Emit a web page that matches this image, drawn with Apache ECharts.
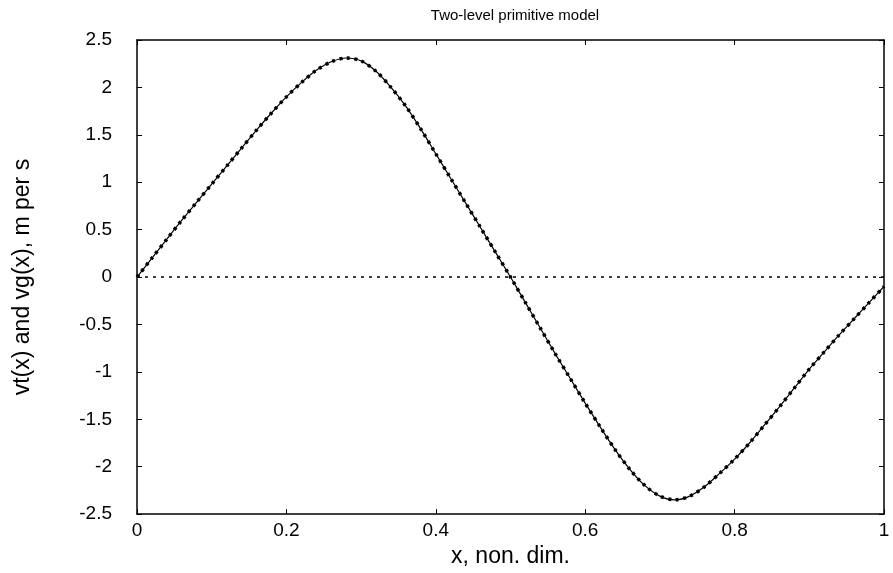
<!DOCTYPE html>
<html>
<head>
<meta charset="utf-8">
<script src="https://cdn.jsdelivr.net/npm/echarts@6/dist/echarts.min.js"></script>
<style>html,body{margin:0;padding:0;background:#fff}#c{width:893px;height:573px}</style>
</head>
<body>
<div id="c"></div>
<script>
var xs = [0,0.02,0.04,0.06,0.08,0.10,0.12,0.14,0.16,0.18,0.20,0.22,0.24,0.26,0.28,0.30,0.32,0.34,0.36,0.38,0.40,0.42,0.44,0.46,0.48,0.50,0.52,0.54,0.56,0.58,0.60,0.62,0.64,0.66,0.68,0.70,0.72,0.74,0.76,0.78,0.80,0.82,0.84,0.86,0.88,0.90,0.92,0.94,0.96,0.98,1.00];
var vt = [0,0.20,0.40,0.60,0.79,0.98,1.17,1.36,1.55,1.73,1.90,2.05,2.18,2.27,2.31,2.28,2.17,2.00,1.80,1.56,1.30,1.04,0.78,0.52,0.26,0.00,-0.27,-0.54,-0.81,-1.07,-1.33,-1.58,-1.82,-2.03,-2.20,-2.31,-2.35,-2.31,-2.21,-2.07,-1.92,-1.75,-1.56,-1.37,-1.17,-0.97,-0.79,-0.61,-0.44,-0.27,-0.10];
var vg = [0,0.20,0.40,0.60,0.79,0.98,1.17,1.36,1.55,1.73,1.90,2.05,2.18,2.27,2.31,2.28,2.17,2.00,1.80,1.56,1.30,1.04,0.78,0.52,0.26,0.00,-0.27,-0.54,-0.81,-1.07,-1.33,-1.58,-1.82,-2.03,-2.20,-2.31,-2.35,-2.31,-2.21,-2.07,-1.92,-1.75,-1.56,-1.37,-1.17,-0.97,-0.79,-0.61,-0.44,-0.27,-0.10];
var zeroX = [0, 1];
var zeroY = [0, 0];
var xTicks = [0, 0.2, 0.4, 0.6, 0.8, 1];
var yTicks = [-2.5, -2, -1.5, -1, -0.5, 0, 0.5, 1, 1.5, 2, 2.5];

function pairs(a, b) { return a.map(function (v, i) { return [v, b[i]]; }); }

var font = 'Liberation Sans, Arial, sans-serif';
var chart = echarts.init(document.getElementById('c'), null, {renderer: 'canvas'});
var axisLine = {show: true, onZero: false, lineStyle: {color: '#000', width: 1.5}};
var tick = {show: true, inside: true, length: 5, lineStyle: {color: '#000', width: 1}};
chart.setOption({
  animation: false,
  backgroundColor: '#fff',
  title: {
    text: 'Two-level primitive model',
    left: 510, top: 3, textAlign: 'center',
    textStyle: {fontFamily: font, fontSize: 15, fontWeight: 'normal', color: '#000'}
  },
  grid: {left: 137, right: 9, top: 40, bottom: 44},
  xAxis: [{
    type: 'value', min: 0, max: 1, interval: 0.2,
    name: 'x, non. dim.', nameLocation: 'middle', nameGap: 21,
    nameTextStyle: {fontFamily: font, fontSize: 23, color: '#000'},
    axisLine: axisLine, axisTick: tick, splitLine: {show: false},
    axisLabel: {fontFamily: font, fontSize: 19, color: '#000', margin: 7,
      formatter: function (v) { var r = Math.round(v * 10) / 10; return xTicks.indexOf(r) >= 0 ? String(r) : ''; }}
  }, {
    type: 'value', min: 0, max: 1, interval: 0.2, position: 'top',
    axisLine: axisLine, axisTick: tick, axisLabel: {show: false}, splitLine: {show: false}
  }],
  yAxis: [{
    type: 'value', min: -2.5, max: 2.5, interval: 0.5,
    name: 'vt(x) and vg(x), m per s', nameLocation: 'middle', nameGap: 103,
    nameTextStyle: {fontFamily: font, fontSize: 23, color: '#000'},
    axisLine: axisLine, axisTick: tick, splitLine: {show: false},
    axisLabel: {fontFamily: font, fontSize: 19, color: '#000', margin: 25,
      formatter: function (v) { return String(v); }}
  }, {
    type: 'value', min: -2.5, max: 2.5, interval: 0.5, position: 'right',
    axisLine: axisLine, axisTick: tick, axisLabel: {show: false}, splitLine: {show: false}
  }],
  series: [{
    name: 'zero', type: 'line', data: pairs(zeroX, zeroY), symbol: 'none',
    lineStyle: {color: '#000', width: 1.5, type: [3, 5]}
  }, {
    name: 'vt', type: 'line', data: pairs(xs, vt), symbol: 'none', smooth: 0.3,
    lineStyle: {color: '#000', width: 1.2}
  }, {
    name: 'vg', type: 'line', data: pairs(xs, vg), symbol: 'none', smooth: 0.3,
    lineStyle: {color: '#000', width: 3.5, type: [3, 4.5]}
  }]
});
</script>
</body>
</html>
